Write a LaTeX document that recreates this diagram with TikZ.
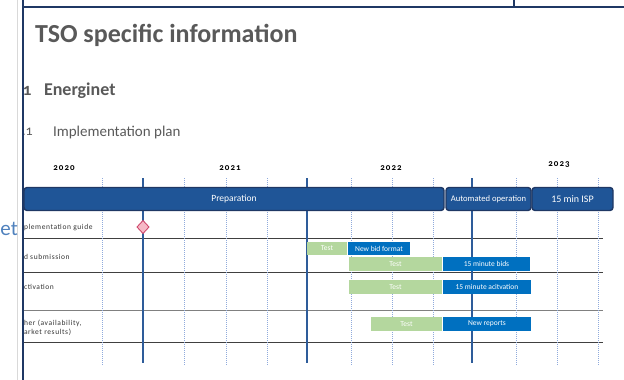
\documentclass[tikz,border=0pt]{standalone}
\usepackage{fontspec}
\setmainfont{Carlito}
\usepackage{xcolor}
\usetikzlibrary{
  positioning,
  shapes.geometric
}
\definecolor{navy}{HTML}{1F3864}
\definecolor{phaseblue}{HTML}{1F5597}
\definecolor{gridblue}{HTML}{2E5C9A}
\definecolor{dotblue}{HTML}{8FAADC}
\definecolor{barblue}{HTML}{0070C0}
\definecolor{testgreen}{HTML}{B4D79E}
\definecolor{headgrey}{HTML}{595959}
\definecolor{ghostblue}{HTML}{4F81BD}
\definecolor{msfill}{HTML}{F6B9C6}
\definecolor{msdraw}{HTML}{D04A6E}

\begin{document}
\begin{tikzpicture}[x=1pt, y=-1pt,
  every node/.style = {inner sep=0pt, outer sep=0pt},
  phase/.style = {draw=navy, line width=1.4pt, fill=phaseblue,
    rounded corners=3pt, text=white, anchor=west,
    minimum height=23pt, font=\fontsize{9.5}{10}\selectfont},
  testbar/.style = {fill=testgreen, text=white, anchor=west,
    minimum height=13.5pt, font=\fontsize{7.5}{8}\selectfont},
  newbar/.style = {fill=barblue, text=white, anchor=west,
    minimum height=13.5pt, font=\fontsize{7.5}{8}\selectfont},
  rowlabel/.style = {anchor=west, align=left, text=black!80,
    font=\fontsize{7.5}{9}\selectfont\addfontfeature{LetterSpace=8}},
  year/.style = {font=\fontsize{9}{10}\selectfont\bfseries\addfontfeature{LetterSpace=12,Numbers=OldStyle}},
  major/.style = {draw=gridblue, line width=1.5pt},
  minor/.style = {draw=dotblue, line width=0.7pt, dash pattern=on 1pt off 1pt},
  rowline/.style = {draw=black!75, line width=0.9pt}]
  \useasboundingbox (0,0) rectangle (624,380);

  % page frame
  \draw[black!15, line width=0.8pt] (17,0) -- (17,380);
  \draw[navy, line width=2pt] (23,7) -- (624,7);
  \draw[navy, line width=2pt] (514,0) -- (514,7);

  % headings
  \node[anchor=west, text=headgrey, font=\fontsize{26}{28}\selectfont\bfseries] (title) at (35,35) {TSO specific information};
  \node[anchor=west, text=headgrey, font=\fontsize{17}{19}\selectfont\bfseries\addfontfeature{Numbers=OldStyle}] (secnum) at (23,91) {1};
  \node[anchor=west, text=headgrey, font=\fontsize{18}{20}\selectfont\bfseries] (section) at (44,91) {Energinet};
  \node[anchor=west, text=headgrey, font=\fontsize{14}{16}\selectfont\addfontfeature{Numbers=OldStyle}] (subnum) at (22,132) {.1};
  \node[anchor=west, text=headgrey, font=\fontsize{15}{17}\selectfont] (subsection) at (53,132) {Implementation plan};
  \node[anchor=west, text=ghostblue, font=\fontsize{21}{23}\selectfont] (ghost) at (0.5,229) {et};

  % years
  \node[year] (y2020) at (64,168) {2020};
  \node[year] (y2021) at (230,168) {2021};
  \node[year] (y2022) at (391,168) {2022};
  \node[year] (y2023) at (559,165) {2023};

  % rows
  \foreach \y/\c in {238/black!75, 272/black!75, 310/black!50, 342/black!75}
    \draw[rowline, draw=\c] (23,\y) -- (603,\y);

  % months
  \foreach \x in {102,184,226,267,351,392,433,516,557,598}
    \draw[minor] (\x,178) -- (\x,365);
  \foreach \x in {143,307,472}
    \draw[major] (\x,178) -- (\x,363);

  % phases
  \node[phase, minimum width=420pt] (prep) at (24,199) {Preparation};
  \node[phase, minimum width=85pt, font=\fontsize{8.6}{9}\selectfont] (auto) at (446,199) {Automated operation};
  \node[phase, minimum width=81pt, font=\fontsize{10}{11}\selectfont] (isp) at (532,199) {15 min ISP};

  % row labels
  \node[rowlabel] (guide) at (24,228) {plementation guide};
  \node[rowlabel] (submit) at (24,257) {d submission};
  \node[rowlabel] (activ) at (24,287) {ctivation};
  \node[rowlabel] (other) at (24,328) {her (availability,\\arket results)};

  % milestone
  \node[diamond, fill=msfill, draw=msdraw, line width=0.9pt,
    minimum width=12pt, minimum height=13pt] (guidems) at (143,227) {};

  % bars
  \node[testbar, minimum width=40pt] (test1) at (307,248.5) {Test};
  \node[newbar, minimum width=62pt] (bidfmt) at (348,248.5) {New bid format};
  \node[testbar, minimum width=93pt] (test2) at (349,264) {Test};
  \node[newbar, minimum width=87pt] (bids) at (443,264) {15 minute bids};
  \node[testbar, minimum width=93pt] (test3) at (349,287) {Test};
  \node[newbar, minimum width=88pt] (activbar) at (443,287) {15 minute acitvation};
  \node[testbar, minimum width=71pt] (test4) at (371,324) {Test};
  \node[newbar, minimum width=88pt] (reports) at (443,324) {New reports};

  \draw[navy, line width=2.5pt] (23,0) -- (23,380);
\end{tikzpicture}
\end{document}
